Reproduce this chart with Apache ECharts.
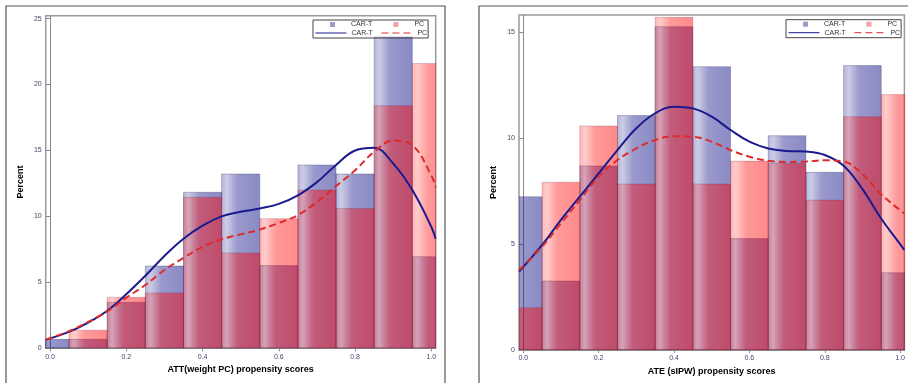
<!DOCTYPE html>
<html><head><meta charset="utf-8">
<script src="https://cdn.jsdelivr.net/npm/echarts@6/dist/echarts.min.js"></script>
<style>html,body{margin:0;padding:0;background:#fff}#c{width:908px;height:383px}</style>
</head><body><div id="c"></div>
<script>
// ---- data ----
const binCenters = [0, 0.1, 0.2, 0.3, 0.4, 0.5, 0.6, 0.7, 0.8, 0.9, 1.0];
const binWidth = 0.1;
const attCart = [0.68, 0.68, 3.49, 6.24, 11.83, 13.22, 6.27, 13.9, 13.22, 23.6, 6.95];
const attPc   = [0, 1.37, 3.87, 4.2, 11.45, 7.23, 9.83, 12.0, 10.6, 18.4, 21.6];
const ateCart = [7.24, 3.26, 8.69, 11.07, 15.27, 13.38, 5.26, 10.12, 8.39, 13.43, 3.65];
const atePc   = [2.0, 7.92, 10.58, 7.84, 15.71, 7.84, 8.92, 8.81, 7.08, 11.02, 12.06];

const curveX = [-0.011, 0.05, 0.1, 0.15, 0.2, 0.25, 0.3, 0.35, 0.4, 0.45, 0.5, 0.55, 0.6, 0.65, 0.7, 0.75, 0.8, 0.85, 0.9, 0.95, 1.0, 1.011];
const attCartCurve = [0.66, 1.25, 1.95, 2.85, 4.1, 5.5, 7.0, 8.3, 9.3, 10.0, 10.35, 10.6, 10.95, 11.6, 12.6, 13.9, 15.0, 15.2, 14.0, 12.0, 9.2, 8.3];
const attPcCurve   = [0.66, 1.3, 2.0, 2.8, 3.84, 4.8, 5.94, 6.85, 7.7, 8.27, 8.64, 9.0, 9.5, 10.1, 11.1, 12.3, 13.5, 14.9, 15.75, 15.4, 13.1, 12.2];
const ateCartCurve = [3.7, 4.96, 6.14, 7.24, 8.34, 9.44, 10.47, 11.18, 11.49, 11.41, 11.02, 10.39, 9.84, 9.52, 9.4, 9.37, 9.21, 8.7, 7.6, 6.2, 5.0, 4.72];
const atePcCurve   = [3.78, 4.88, 5.98, 7.08, 8.19, 8.97, 9.52, 9.92, 10.1, 10.07, 9.84, 9.44, 9.13, 8.94, 8.88, 8.9, 8.96, 8.9, 8.3, 7.35, 6.6, 6.45];

const xTicks = [0, 0.2, 0.4, 0.6, 0.8, 1.0];
const attYTicks = [0, 5, 10, 15, 20, 25];
const ateYTicks = [0, 5, 10, 15];
const groupNames = ['CAR-T', 'PC'];
const xTitles = ['ATT(weight PC) propensity scores', 'ATE (sIPW) propensity scores'];
const yTitle = 'Percent';

// ---- helpers ----
const FONT = "'Liberation Sans', Arial, sans-serif";
function grad(rgb) {
  return new echarts.graphic.LinearGradient(0, 0, 1, 0, [
    {offset: 0, color: 'rgba(' + rgb + ',0.30)'},
    {offset: 0.14, color: 'rgba(' + rgb + ',0.20)'},
    {offset: 0.42, color: 'rgba(' + rgb + ',0.40)'},
    {offset: 1, color: 'rgba(' + rgb + ',0.46)'}
  ]);
}
function barRender(rgb, stroke) {
  return function (params, api) {
    const x = api.value(0), v = api.value(1);
    const p0 = api.coord([x - binWidth / 2, 0]);
    const p1 = api.coord([x + binWidth / 2, v]);
    return {
      type: 'rect',
      shape: {x: p0[0], y: p1[1], width: p1[0] - p0[0], height: p0[1] - p1[1]},
      style: {fill: grad(rgb), stroke: stroke, lineWidth: 1}
    };
  };
}
const pairs = (xs, ys) => xs.map((x, i) => [x, ys[i]]);

function axisPair(idx, yMax, yTicks) {
  const x = {
    gridIndex: idx, type: 'value', min: -0.0113, max: 1.0113,
    splitLine: {show: false},
    axisLine: {show: true, lineStyle: {color: '#8a8a8a', width: 1}},
    axisTick: {show: true, customValues: xTicks, length: 3, lineStyle: {color: '#8a8a8a'}},
    axisLabel: {customValues: xTicks, formatter: v => v.toFixed(1), fontSize: 7, color: '#45456e', margin: 5, fontFamily: FONT},
    name: xTitles[idx], nameLocation: 'middle', nameGap: 17,
    nameTextStyle: {fontWeight: 'bold', fontSize: 9, color: '#000', fontFamily: FONT}
  };
  const y = {
    gridIndex: idx, type: 'value', min: 0, max: yMax,
    splitLine: {show: false},
    axisLine: {show: true, lineStyle: {color: '#8a8a8a', width: 1}},
    axisTick: {show: true, customValues: yTicks, length: 4, lineStyle: {color: '#8a8a8a'}},
    axisLabel: {customValues: yTicks, fontSize: 7, color: '#45456e', margin: 4, fontFamily: FONT},
    name: yTitle, nameLocation: 'middle', nameGap: 21, nameRotate: 90,
    nameTextStyle: {fontWeight: 'bold', fontSize: 9, color: '#000', fontFamily: FONT}
  };
  return [x, y];
}
const [ax0, ay0] = axisPair(0, 25.22, attYTicks);
const [ax1, ay1] = axisPair(1, 15.82, ateYTicks);

function panelSeries(idx, cart, pc, cartCurve, pcCurve) {
  return [
    {type: 'custom', name: groupNames[0] + ' bars', xAxisIndex: idx, yAxisIndex: idx, clip: true, z: 2,
     renderItem: barRender('0,0,128', 'rgba(40,40,90,0.28)'), data: pairs(binCenters, cart)},
    {type: 'custom', name: groupNames[1] + ' bars', xAxisIndex: idx, yAxisIndex: idx, clip: true, z: 3,
     renderItem: barRender('255,0,0', 'rgba(110,30,50,0.22)'), data: pairs(binCenters, pc)},
    {type: 'line', name: groupNames[0] + ' density', xAxisIndex: idx, yAxisIndex: idx, z: 5,
     smooth: 0.4, symbol: 'none', clip: true,
     lineStyle: {color: '#1a1a8e', width: 2}, itemStyle: {color: '#1a1a8e'},
     data: pairs(curveX, cartCurve)},
    {type: 'line', name: groupNames[1] + ' density', xAxisIndex: idx, yAxisIndex: idx, z: 6,
     smooth: 0.4, symbol: 'none', clip: true,
     lineStyle: {color: '#e02a2a', width: 2, type: [7, 4]}, itemStyle: {color: '#e02a2a'},
     data: pairs(curveX, pcCurve)}
  ];
}

function legends(left, top) {
  const base = {selectedMode: false, orient: 'horizontal', formatter: n => n.split(' ')[0],
    textStyle: {fontSize: 7, lineHeight: 8, color: '#333', fontFamily: FONT}};
  const hidden = {color: 'rgba(0,0,0,0)', borderColor: 'rgba(0,0,0,0)', borderWidth: 0, opacity: 0};
  return [
    Object.assign({}, base, {
      left: left, top: top, padding: [0.5, 4, 9.5, 17],
      borderColor: '#444', borderWidth: 1,
      itemWidth: 5, itemHeight: 5, itemGap: 21, icon: 'rect',
      textStyle: Object.assign({}, base.textStyle, {padding: [0, 0, 0, 11]}),
      data: [
        {name: groupNames[0] + ' bars', itemStyle: {color: '#9a9acd', borderWidth: 0}},
        {name: groupNames[1] + ' bars', itemStyle: {color: '#f5a0a6', borderWidth: 0}}
      ]
    }),
    Object.assign({}, base, {
      left: left + 2, top: top + 9, padding: 0,
      itemWidth: 31, itemHeight: 8, itemGap: 8,
      lineStyle: {width: 1},
      itemStyle: hidden,
      data: [
        {name: groupNames[0] + ' density', itemStyle: hidden},
        {name: groupNames[1] + ' density', itemStyle: hidden}
      ]
    })
  ];
}

const option = {
  animation: false,
  backgroundColor: '#fff',
  textStyle: {fontFamily: FONT},
  grid: [
    {left: 45.7, top: 15.7, width: 390, height: 332.6, show: true, borderColor: '#9a9a9a', borderWidth: 1.5, containLabel: false},
    {left: 519, top: 15, width: 389.3, height: 335, show: true, borderColor: '#9a9a9a', borderWidth: 1.5, containLabel: false}
  ],
  xAxis: [ax0, ax1],
  yAxis: [ay0, ay1],
  legend: legends(313, 20).concat(legends(786, 19.7)),
  graphic: [
    {type: 'rect', silent: true, z: 100, shape: {x: 6, y: 6, width: 439, height: 420}, style: {fill: 'none', stroke: '#555', lineWidth: 1.2}},
    {type: 'rect', silent: true, z: 100, shape: {x: 479, y: 6, width: 460, height: 420}, style: {fill: 'none', stroke: '#555', lineWidth: 1.2}}
  ],
  series: panelSeries(0, attCart, attPc, attCartCurve, attPcCurve)
    .concat(panelSeries(1, ateCart, atePc, ateCartCurve, atePcCurve))
};
const chart = echarts.init(document.getElementById('c'), null, {renderer: 'canvas'});
chart.setOption(option);
</script>
</body></html>
